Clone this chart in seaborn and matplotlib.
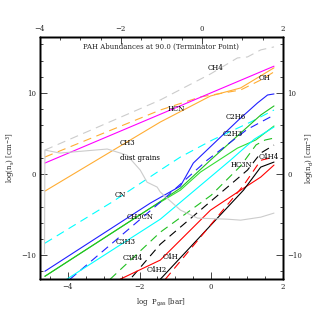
import matplotlib
matplotlib.use("Agg")
import matplotlib.pyplot as plt
import pandas as pd
import seaborn as sns
from matplotlib.ticker import MultipleLocator

# log P_gas [bar] and log n [cm^-3]
ch4_x = [-4.64, -1.42, -0.02, 0.73, 1.01, 1.38, 1.75]
ch4_y = [2.96, 9.14, 12.35, 14.32, 14.44, 15.31, 15.68]
oh_x = [-4.64, -1.42, -0.30, 0.82, 1.38, 1.75]
oh_y = [2.10, 7.90, 9.51, 10.37, 11.6, 12.6]
mag_x = [-4.64, 1.75]
mag_y = [1.36, 13.3]
hcn_x = [-4.64, -1.42, -0.02, 0.82, 1.75]
hcn_y = [-2.10, 6.42, 9.63, 10.62, 13.1]
cn_x = [-4.64, -2.77, -1.42, -0.86, 0.03, 1.10, 1.75]
cn_y = [-8.52, -3.46, 0.49, 2.10, 4.20, 6.42, 7.9]
c2h6_x = [-4.64, -1.70, -0.86, -0.50, 0.76, 1.29, 1.57, 1.75]
c2h6_y = [-11.98, -3.58, -1.48, 1.36, 6.67, 8.77, 9.75, 9.88]
c2h5_x = [-4.64, -1.70, -0.86, -0.02, 0.82, 1.38, 1.75]
c2h5_y = [-12.6, -4.2, -1.73, 1.73, 5.06, 7.28, 8.4]
c2h3_x = [-4.64, -1.70, -0.86, -0.30, 0.73, 1.24, 1.75]
c2h3_y = [-12.6, -4.2, -1.98, 0.25, 3.2, 4.2, 5.93]
ch3cn_x = [-3.94, -1.42, -0.11, 1.0, 1.75]
ch3cn_y = [-12.96, -3.46, 1.73, 5.5, 7.28]
c3h3_x = [-4.03, -1.42, 0.54, 1.2, 1.75]
c3h3_y = [-12.96, -5.56, 1.73, 4.3, 5.8]
c3h4_x = [-2.82, -1.42, 0.0, 0.82, 1.25, 1.5, 1.75]
c3h4_y = [-12.96, -7.16, -2.6, 1.0, 3.6, 4.2, 4.44]
hc3n_x = [-2.21, -1.42, 1.01, 1.38, 1.75]
hc3n_y = [-12.7, -8.64, 0.49, 2.59, 3.58]
c4h_x = [-2.54, -1.42, -0.02, 0.82, 1.38, 1.75]
c4h_y = [-12.96, -10.6, -4.44, -1.98, -0.37, 1.11]
c4h2_x = [-1.42, 0.90, 1.38, 1.75]
c4h2_y = [-12.96, -1.98, 0.86, 1.48]
c4h4_x = [-1.28, 0.90, 1.38, 1.75]
c4h4_y = [-12.96, -1.4, 1.7, 2.1]
dust_x = [-4.65, -4.64, -4.22, -2.90, -2.35, -1.98, -1.79, -1.51, -1.42, -0.86, -0.38, 0.45, 0.82, 1.38, 1.75]
dust_y = [-9.8, 2.96, 2.59, 3.09, 2.34, 0.49, -1.0, -1.6, -2.22, -4.44, -5.43, -5.56, -5.68, -5.31, -4.81]

labels = ["CH4", "OH", "HCN", "CH3", "dust grains", "C2H6", "C2H3", "CN",
          "CH3CN", "C3H3", "C3H4", "C4H", "C4H2", "HC3N", "C4H4"]
label_x = [0.12, 1.49, -0.97, -2.35, -1.98, 0.68, 0.59, -2.54,
           -1.98, -2.38, -2.18, -1.14, -1.51, 0.85, 1.60]
label_y = [13.1, 11.85, 8.0, 3.83, 1.98, 7.04, 4.94, -2.59,
           -5.31, -8.40, -10.37, -10.25, -11.85, 1.11, 2.1]

series = [
    (ch4_x, ch4_y, "#cccccc", True),
    (oh_x, oh_y, "#ffad33", True),
    (mag_x, mag_y, "#ff00ff", False),
    (hcn_x, hcn_y, "#ffad33", False),
    (cn_x, cn_y, "#00ffff", True),
    (c2h3_x, c2h3_y, "#33dd33", False),
    (c2h6_x, c2h6_y, "#2020ff", False),
    (c2h5_x, c2h5_y, "#20c020", False),
    (ch3cn_x, ch3cn_y, "#2020ff", True),
    (c3h3_x, c3h3_y, "#00ffff", False),
    (c3h4_x, c3h4_y, "#20c020", True),
    (hc3n_x, hc3n_y, "#000000", True),
    (c4h_x, c4h_y, "#ff0000", False),
    (c4h2_x, c4h2_y, "#000000", False),
    (c4h4_x, c4h4_y, "#ff0000", True),
    (dust_x, dust_y, "#cccccc", False),
]

FS = 5.0


def style_ticks(a):
    a.tick_params(which="both", direction="in", labelsize=FS, width=0.6, pad=3)
    a.tick_params(which="major", length=5)
    a.tick_params(which="minor", length=2.5)


def main() -> None:
    sns.set_theme(style="ticks")
    plt.rcParams["font.family"] = ["DejaVu Serif"]
    plt.rcParams["lines.scale_dashes"] = False

    fig = plt.figure(figsize=(3.19, 3.19), dpi=100)
    ax = fig.add_axes([0.125, 0.125, 0.762, 0.759])

    for xs, ys, color, dashed in series:
        df = pd.DataFrame({"x": xs, "y": ys})
        sns.lineplot(data=df, x="x", y="y", ax=ax, color=color, sort=False,
                     linewidth=0.8, linestyle=(0, (6, 4)) if dashed else "-")

    for txt, tx, ty in zip(labels, label_x, label_y):
        ax.text(tx, ty, txt, fontsize=FS, ha="center", va="center", color="black")
    ax.text(0.5, 0.975, "PAH Abundances at 90.0 (Terminator Point)", transform=ax.transAxes,
            fontsize=FS, ha="center", va="top")

    ax.set_xlim(-4.78, 2.0)
    ax.set_ylim(-12.95, 16.9)
    ax.set_xlabel(r"log  P$_{\rm gas}$ [bar]", fontsize=FS, labelpad=4)
    ax.set_ylabel(r"log(n$_{\rm s}$) [cm$^{-3}$]", fontsize=FS, labelpad=2)
    ax.xaxis.set_major_locator(MultipleLocator(2))
    ax.xaxis.set_minor_locator(MultipleLocator(0.5))
    ax.yaxis.set_major_locator(MultipleLocator(10))
    ax.yaxis.set_minor_locator(MultipleLocator(2))
    style_ticks(ax)

    top = ax.twiny()
    top.set_xlim(-4.0, 2.0)
    top.xaxis.set_major_locator(MultipleLocator(2))
    top.xaxis.set_minor_locator(MultipleLocator(0.5))
    style_ticks(top)

    right = ax.twinx()
    right.set_ylim(-12.95, 16.9)
    right.yaxis.set_major_locator(MultipleLocator(10))
    right.yaxis.set_minor_locator(MultipleLocator(2))
    right.set_ylabel(r"log(n$_{\rm d}$) [cm$^{-3}$]", fontsize=FS, rotation=90, labelpad=1)
    style_ticks(right)

    for a in (ax, top, right):
        for sp in a.spines.values():
            sp.set_linewidth(1.0)
            sp.set_color("black")

    fig.savefig("out.png", dpi=100)
    plt.close(fig)


if __name__ == "__main__":
    main()
